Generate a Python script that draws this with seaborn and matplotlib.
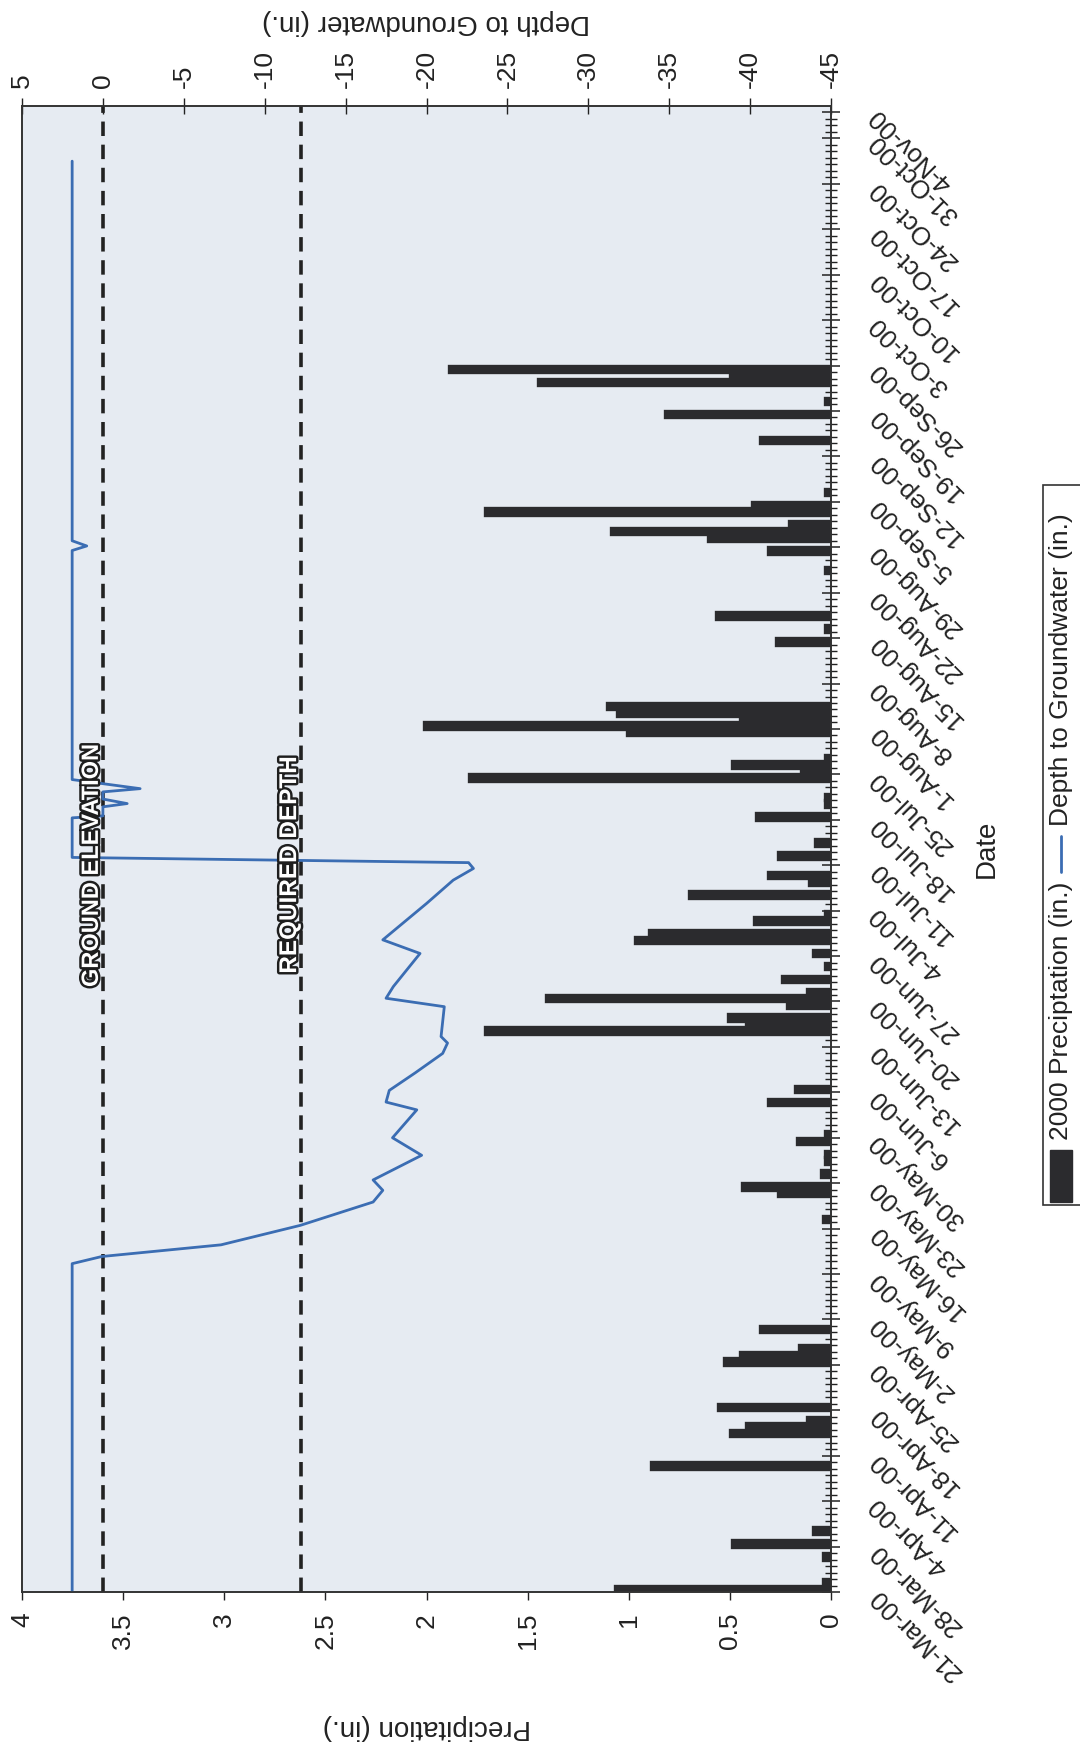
import numpy as np
import pandas as pd
import seaborn as sns
import matplotlib.pyplot as plt
import matplotlib.patheffects as pe
from matplotlib.patches import Rectangle
from matplotlib.lines import Line2D

sns.set_style('ticks')
plt.rcParams['font.family'] = ['Liberation Sans', 'DejaVu Sans']

# days counted from 21-Mar-00 (day 0)
rain_day = [0, 1, 5, 7, 9, 19, 24, 25, 26, 28, 35, 36, 37, 40, 57, 61, 62, 64, 66, 67,
            69, 70, 75, 77, 86, 87, 88, 90, 91, 92, 94, 96, 98, 100, 101, 103, 104, 107,
            109, 110, 113, 115, 119, 121, 122, 125, 126, 127, 128, 132, 133, 134, 135,
            136, 146, 148, 150, 157, 160, 162, 163, 164, 166, 167, 169, 177, 181, 183,
            186, 187, 188]
rain_in = [1.07, 0.04, 0.04, 0.49, 0.09, 0.89, 0.50, 0.42, 0.12, 0.56, 0.53, 0.45, 0.16,
           0.35, 0.04, 0.26, 0.44, 0.05, 0.03, 0.03, 0.17, 0.03, 0.31, 0.18, 1.71, 0.42,
           0.51, 0.22, 1.41, 0.12, 0.24, 0.03, 0.09, 0.97, 0.90, 0.38, 0.03, 0.70, 0.11,
           0.31, 0.26, 0.08, 0.37, 0.03, 0.03, 1.79, 0.15, 0.49, 0.03, 1.01, 2.01, 0.45,
           1.06, 1.11, 0.27, 0.03, 0.57, 0.03, 0.31, 0.61, 1.09, 0.21, 1.71, 0.39, 0.03,
           0.35, 0.82, 0.03, 1.45, 0.50, 1.89]

gw_day = [0, 50.6, 51.7, 53.5, 56.5, 60.1, 61.9, 63.5, 67.3, 70.0, 74.3, 75.5, 77.3, 80.0,
          83.0, 84.6, 85.6, 90.2, 91.5, 93.3, 98.4, 100.5, 106.1, 109.7, 111.5, 112.4,
          113.2, 119.3, 119.6, 121.0, 121.5, 122.2, 123.3, 123.8, 125.2, 160.5, 161.2,
          162.0, 220.5]
gw_depth = [1.9, 1.9, 0.07, -7.3, -12.2, -16.7, -17.3, -16.7, -19.7, -17.9, -19.4, -17.5,
            -17.7, -19.3, -21.0, -21.3, -20.9, -21.1, -17.5, -17.95, -19.6, -17.3, -20.0,
            -21.65, -22.9, -22.6, 1.9, 1.9, 0.0, 0.0, -1.5, 0.0, 0.0, -2.3, 1.9, 1.9, 1.0,
            1.9, 1.9]

date_day = [0, 7, 14, 21, 28, 35, 42, 49, 56, 63, 70, 77, 84, 91, 98, 105, 112, 119, 126,
            133, 140, 147, 154, 161, 168, 175, 182, 189, 196, 203, 210, 217, 224, 228]
date_lbl = ['21-Mar-00', '28-Mar-00', '4-Apr-00', '11-Apr-00', '18-Apr-00', '25-Apr-00',
            '2-May-00', '9-May-00', '16-May-00', '23-May-00', '30-May-00', '6-Jun-00',
            '13-Jun-00', '20-Jun-00', '27-Jun-00', '4-Jul-00', '11-Jul-00', '18-Jul-00',
            '25-Jul-00', '1-Aug-00', '8-Aug-00', '15-Aug-00', '22-Aug-00', '29-Aug-00',
            '5-Sep-00', '12-Sep-00', '19-Sep-00', '26-Sep-00', '3-Oct-00', '10-Oct-00',
            '17-Oct-00', '24-Oct-00', '31-Oct-00', '4-Nov-00']

precip_ticks = [0, 0.5, 1, 1.5, 2, 2.5, 3, 3.5, 4]
precip_lbl = ['0', '0.5', '1', '1.5', '2', '2.5', '3', '3.5', '4']
depth_ticks = [5, 0, -5, -10, -15, -20, -25, -30, -35, -40, -45]
depth_lbl = ['5', '0', '-5', '-10', '-15', '-20', '-25', '-30', '-35', '-40', '-45']

ground_elev = 0
required_depth = -12.25

W, H = 1080, 1750
fig = plt.figure(figsize=(10.8, 17.5), dpi=100)
ax = fig.add_axes([22 / W, 158 / H, 809 / W, 1486 / H])
ax.set_facecolor('#e6ebf2')

bar_col = '#2b2b2e'
rain = pd.DataFrame({'day': np.array(rain_day) + 0.5, 'precip': rain_in})
sns.barplot(data=rain, x='precip', y='day', orient='y', native_scale=True, width=1.0,
            color=bar_col, saturation=1, errorbar=None, edgecolor=bar_col,
            linewidth=2.4, ax=ax)

ax.set_xlim(4, 0)
ax.set_ylim(0, 229)

# precipitation axis (bottom)
ax.set_xticks(precip_ticks)
ax.set_xticklabels(precip_lbl, rotation=90)
ax.tick_params(axis='x', direction='out', length=6, width=1, pad=9, labelsize=19,
               colors='#222', bottom=True, top=False)
ax.set_xlabel('Precipitation (in.)', fontsize=20, rotation=180, color='#222')
ax.xaxis.set_label_coords(0.5, (H - 1727 - 158) / 1486)
ax.xaxis.label.set_va('center')

# date axis (right)
ax.yaxis.tick_right()
ax.set_yticks(date_day)
ax.set_yticklabels(date_lbl)
ax.set_yticks(np.arange(0, 229), minor=True)
ax.tick_params(axis='y', which='major', direction='inout', length=13, width=1.1, pad=24,
               labelsize=18.5, colors='#222', left=False, right=True)
ax.tick_params(axis='y', which='minor', direction='inout', length=8, width=1.0,
               color='#222', left=False, right=True)
for lab in ax.get_yticklabels():
    lab.set_rotation(135)
    lab.set_ha('right')
    lab.set_va('center')
    lab.set_rotation_mode('anchor')
ax.set_ylabel('Date', fontsize=20, rotation=90, color='#222')
ax.yaxis.set_label_position('right')
ax.yaxis.set_label_coords((987 - 22) / 809, 0.5)
ax.yaxis.label.set_va('center')
ax.yaxis.label.set_ha('center')

for s in ax.spines.values():
    s.set_color('#333')
    s.set_linewidth(1.2)

# depth axis (top)
ax2 = ax.twiny()
sns.lineplot(x=gw_depth, y=gw_day, sort=False, orient='y', estimator=None,
             color='#3b6db3', linewidth=2.0, ax=ax2)
ax2.axvline(ground_elev, color='#222', lw=2.6, ls=(0, (4, 2.4)), zorder=1)
ax2.axvline(required_depth, color='#222', lw=2.6, ls=(0, (4, 2.4)), zorder=1)
ax2.set_xlim(5, -45)
ax2.set_ylim(0, 229)
ax2.set_xticks(depth_ticks)
ax2.set_xticklabels(depth_lbl, rotation=90)
ax2.tick_params(axis='x', direction='inout', length=12, width=1, pad=7, labelsize=19,
                colors='#222', top=True, bottom=False)
ax2.set_xlabel('Depth to Groundwater (in.)', fontsize=20, rotation=180, color='#222')
ax2.xaxis.set_label_position('top')
ax2.xaxis.set_label_coords(0.5, (H - 22 - 158) / 1486)
ax2.xaxis.label.set_va('center')
for s in ax2.spines.values():
    s.set_color('#333')
    s.set_linewidth(1.2)

outline = [pe.withStroke(linewidth=3.5, foreground='#1e1e1e')]
ax2.text(ground_elev, 112, 'GROUND ELEVATION', rotation=90, rotation_mode='anchor',
         ha='center', va='bottom', fontsize=17, fontweight='bold', color='white',
         path_effects=outline, zorder=5)
ax2.text(required_depth, 112, 'REQUIRED DEPTH', rotation=90, rotation_mode='anchor',
         ha='center', va='bottom', fontsize=17.5, fontweight='bold', color='white',
         path_effects=outline, zorder=5)

# legend, drawn rotated like the rest of the page
fig.patches.append(Rectangle((1043 / W, (H - 1205) / H), 60 / W, 720 / H,
                             transform=fig.transFigure, facecolor='white',
                             edgecolor='#333', lw=1.2))
fig.patches.append(Rectangle((1050 / W, (H - 1202) / H), 22 / W, 52 / H,
                             transform=fig.transFigure, facecolor=bar_col,
                             edgecolor=bar_col, lw=1))
fig.text(1061 / W, (H - 1140) / H, '2000 Preciptation (in.)', rotation=90,
         ha='center', va='bottom', fontsize=19, color='#222')
fig.lines.append(Line2D([1061 / W, 1061 / W], [(H - 872) / H, (H - 836) / H],
                        transform=fig.transFigure, color='#3b6db3', lw=2))
fig.text(1061 / W, (H - 826) / H, 'Depth to Groundwater (in.)', rotation=90,
         ha='center', va='bottom', fontsize=19, color='#222')

fig.savefig('out.png', dpi=100)
